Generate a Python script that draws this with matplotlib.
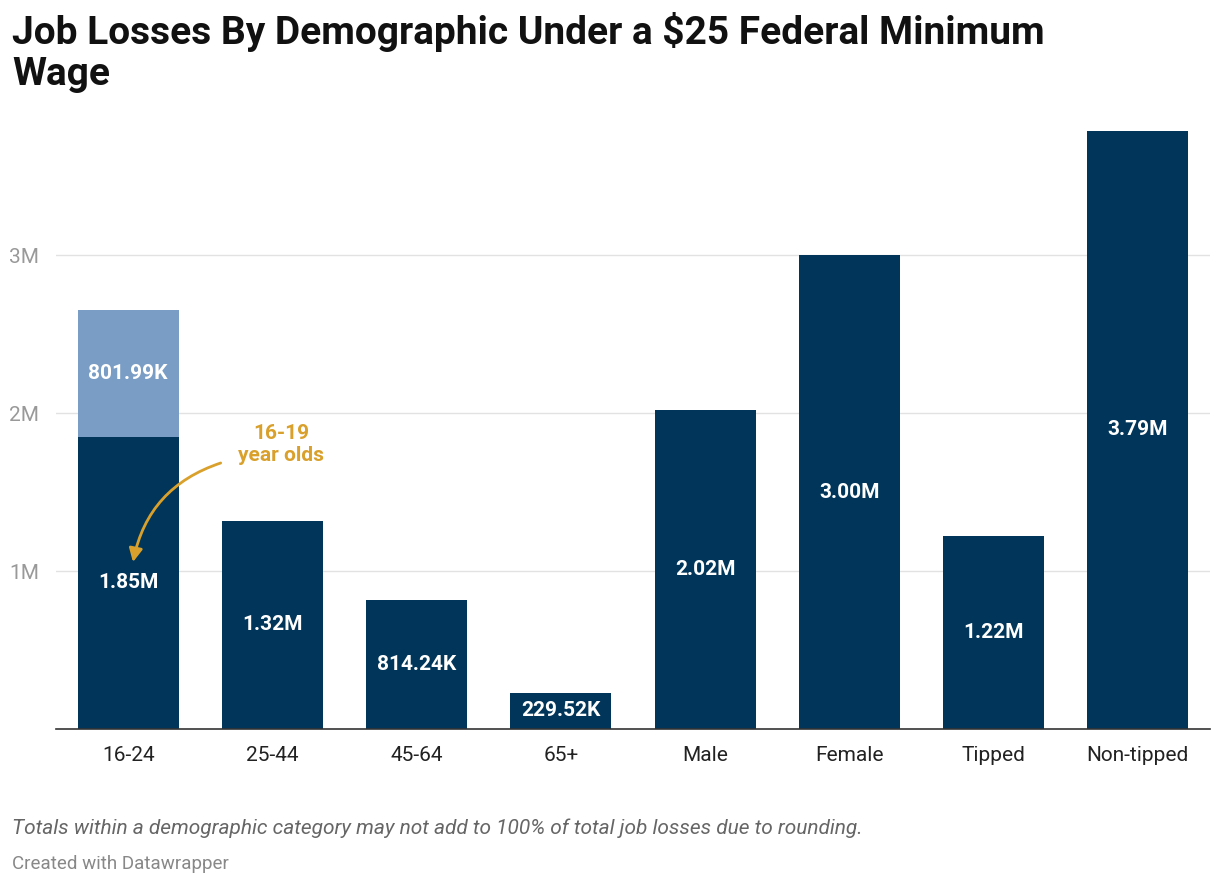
"""
Job losses by demographic under a $25 federal minimum wage.
"""

# =========================
# 1. IMPORT LIBRARIES
# =========================
import matplotlib.pyplot as plt
import numpy as np

plt.rcParams["font.family"] = ["Roboto", "DejaVu Sans"]

# =========================
# 2. DATA
# =========================
categories = ["16-24", "25-44", "45-64", "65+", "Male", "Female", "Tipped", "Non-tipped"]
losses = [1.85, 1.32, 0.81424, 0.22952, 2.02, 3.00, 1.22, 3.79]  # millions
labels = ["1.85M", "1.32M", "814.24K", "229.52K", "2.02M", "3.00M", "1.22M", "3.79M"]
teen_extra = 0.80199  # 16-19 year olds, stacked on 16-24
teen_label = "801.99K"

dark = "#01365a"
light = "#7a9dc5"
gold = "#d9a12c"

# =========================
# 3. VISUALIZATION
# =========================
fig = plt.figure(figsize=(12.2, 8.88), dpi=100)
ax = fig.add_axes([56 / 1220, 1 - 729 / 888, 1154 / 1220, 619 / 888])

x = np.arange(len(categories))
ax.bar(x, losses, width=0.7, color=dark, zorder=2)
ax.bar(x[0], teen_extra, bottom=losses[0], width=0.7, color=light, zorder=2)

for xi, v, lab in zip(x, losses, labels):
    ax.text(xi, v / 2, lab, ha="center", va="center", color="white",
            fontsize=15, fontweight="bold", zorder=3)
ax.text(x[0], losses[0] + teen_extra / 2, teen_label, ha="center", va="center",
        color="white", fontsize=15, fontweight="bold", zorder=3)

# annotation for the teen segment
ax.text(1.06, 1.80, "16-19\nyear olds", ha="center", va="center", color=gold,
        fontsize=15, fontweight="bold", linespacing=1.2)
ax.annotate("", xy=(0.03, 1.04), xytext=(0.66, 1.69),
            arrowprops=dict(arrowstyle="-|>", color=gold, lw=2,
                            connectionstyle="arc3,rad=0.3", mutation_scale=20))

ax.set_xlim(-0.5, len(categories) - 0.5)
ax.set_ylim(0, 3.92)
ax.set_yticks([1, 2, 3])
ax.set_yticklabels(["1M", "2M", "3M"])
ax.set_xticks(x)
ax.set_xticklabels(categories)
ax.tick_params(axis="y", length=0, labelsize=15, labelcolor="#999999", pad=12)
ax.tick_params(axis="x", length=0, labelsize=15, labelcolor="#222222", pad=12)
ax.grid(axis="y", color="#e2e2e2", lw=1, zorder=0)
for s in ["top", "right", "left"]:
    ax.spines[s].set_visible(False)
ax.spines["bottom"].set_color("#333333")
ax.spines["bottom"].set_linewidth(1.2)

fig.text(12 / 1220, 1 - 12 / 888, "Job Losses By Demographic Under a $25 Federal Minimum\nWage",
         ha="left", va="top", fontsize=28, fontweight="bold", color="#111111", linespacing=1.15)
fig.text(12 / 1220, 1 - 828 / 888,
         "Totals within a demographic category may not add to 100% of total job losses due to rounding.",
         ha="left", va="center", fontsize=15, style="italic", color="#666666")
fig.text(12 / 1220, 1 - 864 / 888, "Created with Datawrapper",
         ha="left", va="center", fontsize=13.5, color="#888888")

fig.savefig("out.png", dpi=100)
